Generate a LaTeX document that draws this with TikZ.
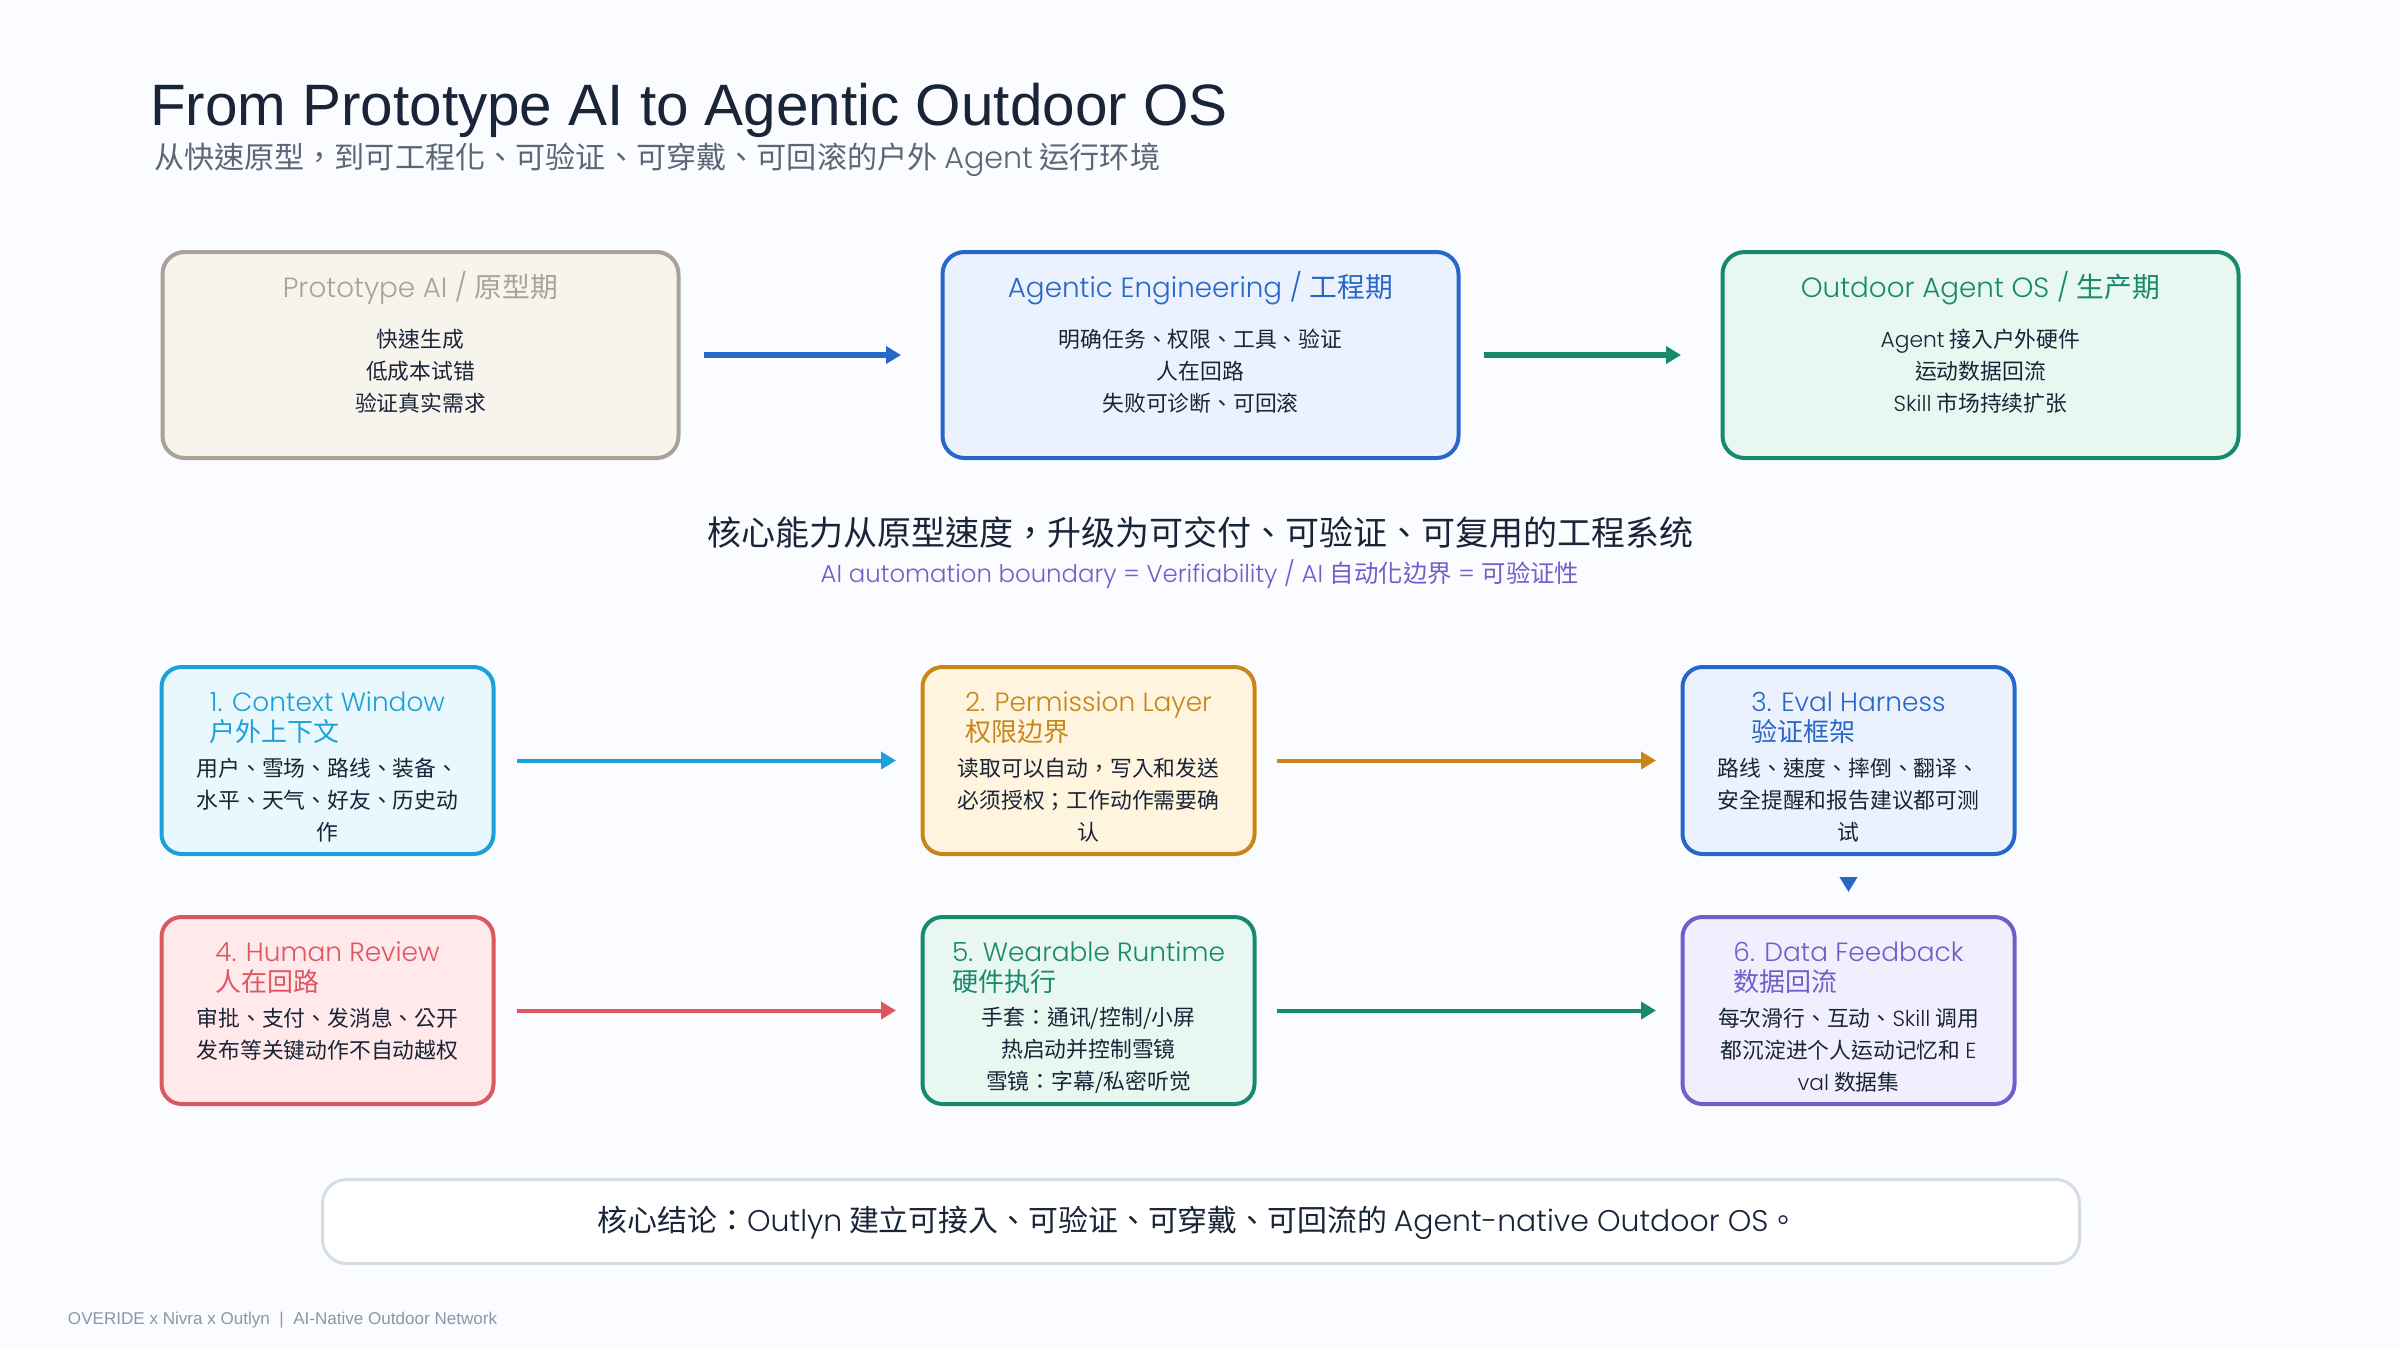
\documentclass[tikz,border=0pt]{standalone}
\usepackage{fontspec}
\setmainfont{Liberation Sans}
\newfontfamily\zhfont{Noto Sans CJK TC}
\newfontfamily\geofont{Poppins Light}
\usetikzlibrary{arrows.meta,positioning}
\newcommand{\zh}[1]{{\zhfont #1}}
\newcommand{\zhhead}[1]{{\zhfont\fontsize{13}{15}\selectfont #1}}
\definecolor{pagebg}{HTML}{FBFCFF}
\definecolor{ink}{HTML}{1A2438}
\definecolor{subink}{HTML}{5B6777}
\definecolor{protoline}{HTML}{A9A297}
\definecolor{protofill}{HTML}{F7F4EE}
\definecolor{blueline}{HTML}{2767C9}
\definecolor{bluefill}{HTML}{EBF2FE}
\definecolor{greenline}{HTML}{178A6E}
\definecolor{greenfill}{HTML}{E8F7F0}
\definecolor{cyanline}{HTML}{1D9FDA}
\definecolor{cyanfill}{HTML}{E8F8FC}
\definecolor{orangeline}{HTML}{C8851A}
\definecolor{orangefill}{HTML}{FFF4DE}
\definecolor{redline}{HTML}{DD5761}
\definecolor{redfill}{HTML}{FFE9EA}
\definecolor{violetline}{HTML}{6E5FC9}
\definecolor{violetfill}{HTML}{F1EFFE}
\definecolor{endline}{HTML}{D5DCE4}
\definecolor{footink}{HTML}{8A97A8}
\begin{document}
\begin{tikzpicture}[x=.5pt,y=-.5pt,outer sep=0pt,inner sep=0pt,
  stage/.style={rectangle,rounded corners=11pt,line width=2pt,minimum width=258pt,minimum height=103pt},
  card/.style={rectangle,rounded corners=10pt,line width=2pt,minimum width=166pt,minimum height=93.5pt},
  stagehead/.style={font=\geofont\fontsize{13.9}{16}\selectfont,text height=10pt,text depth=3pt},
  cardhead/.style={font=\geofont\fontsize{13.2}{15}\selectfont,align=left},
  body/.style={font=\zhfont\fontsize{10.9}{16}\selectfont,align=center,text=ink},
  flow/.style={-{Triangle[length=7.5pt,width=8.5pt]},line width=2pt},
  bigflow/.style={-{Triangle[length=7.5pt,width=8.5pt]},line width=3pt}]
  \fill[pagebg] (0,0) rectangle (2400,1350);
  \useasboundingbox (0,0) rectangle (2400,1350);

  \node[anchor=base west,text=ink,font=\fontsize{29.2}{33}\selectfont] (title) at (150,125) {From Prototype AI to Agentic Outdoor OS};
  \node[anchor=west,text=subink,font=\zhfont\fontsize{15.07}{18}\selectfont] (subtitle) at (154,160) {从快速原型，到可工程化、可验证、可穿戴、可回滚的户外 {\geofont Agent} 运行环境};

  % three stages
  \node[stage,draw=protoline,fill=protofill] (proto) at (420.5,355) {};
  \node[stage,draw=blueline,fill=bluefill,right=132pt of proto] (eng) {};
  \node[stage,draw=greenline,fill=greenfill,right=132pt of eng] (os) {};
  \node[stagehead,text=protoline,yshift=-19pt] (protohead) at (proto.north) {Prototype AI / \zh{原型期}};
  \node[stagehead,text=blueline,yshift=-19pt] (enghead) at (eng.north) {Agentic Engineering / \zh{工程期}};
  \node[stagehead,text=greenline,yshift=-19pt] (oshead) at (os.north) {Outdoor Agent OS / \zh{生产期}};
  \node[body,yshift=-8pt] (protobody) at (proto) {快速生成\\低成本试错\\验证真实需求};
  \node[body,yshift=-8pt] (engbody) at (eng) {明确任务、权限、工具、验证\\人在回路\\失败可诊断、可回滚};
  \node[body,yshift=-8pt] (osbody) at (os) {{\geofont Agent} 接入户外硬件\\运动数据回流\\{\geofont Skill} 市场持续扩张};

  \draw[bigflow,blueline,shorten <=12.75pt,shorten >=20.75pt] (proto) -- (eng);
  \draw[bigflow,greenline,shorten <=12.75pt,shorten >=20.75pt] (eng) -- (os);

  \node[text=ink,font=\zhfont\fontsize{17}{20}\selectfont] (core) at (1200,533) {核心能力从原型速度，升级为可交付、可验证、可复用的工程系统};
  \node[text=violetline,font=\geofont\fontsize{12.2}{15}\selectfont] (boundary) at (1200,574) {AI automation boundary = Verifiability / AI \zh{自动化边界} = \zh{可验证性}};

  % six layers
  \node[card,draw=cyanline,fill=cyanfill] (ctx) at (327.5,760.5) {};
  \node[card,draw=orangeline,fill=orangefill,right=214.5pt of ctx] (perm) {};
  \node[card,draw=blueline,fill=bluefill,right=214pt of perm] (eval) {};
  \node[card,draw=redline,fill=redfill,below=31.5pt of ctx] (human) {};
  \node[card,draw=greenline,fill=greenfill,below=31.5pt of perm] (wear) {};
  \node[card,draw=violetline,fill=violetfill,below=31.5pt of eval] (data) {};

  \node[cardhead,text=cyanline,yshift=-25.5pt] (ctxhead) at (ctx.north) {1. Context Window\\\zhhead{户外上下文}};
  \node[cardhead,text=orangeline,yshift=-25.5pt] (permhead) at (perm.north) {2. Permission Layer\\\zhhead{权限边界}};
  \node[cardhead,text=blueline,yshift=-25.5pt] (evalhead) at (eval.north) {3. Eval Harness\\\zhhead{验证框架}};
  \node[cardhead,text=redline,yshift=-25.5pt] (humanhead) at (human.north) {4. Human Review\\\zhhead{人在回路}};
  \node[cardhead,text=greenline,yshift=-25.5pt] (wearhead) at (wear.north) {5. Wearable Runtime\\\zhhead{硬件执行}};
  \node[cardhead,text=violetline,yshift=-25.5pt] (datahead) at (data.north) {6. Data Feedback\\\zhhead{数据回流}};

  \node[body,yshift=-20pt] (ctxbody) at (ctx) {用户、雪场、路线、装备、\\水平、天气、好友、历史动\\作};
  \node[body,yshift=-20pt] (permbody) at (perm) {读取可以自动，写入和发送\\必须授权；工作动作需要确\\认};
  \node[body,yshift=-20pt] (evalbody) at (eval) {路线、速度、摔倒、翻译、\\安全提醒和报告建议都可测\\试};
  \node[body,yshift=-12pt] (humanbody) at (human) {审批、支付、发消息、公开\\发布等关键动作不自动越权};
  \node[body,yshift=-20pt] (wearbody) at (wear) {手套：通讯/控制/小屏\\热启动并控制雪镜\\雪镜：字幕/私密听觉};
  \node[body,yshift=-20pt] (databody) at (data) {每次滑行、互动、{\geofont Skill} 调用\\都沉淀进个人运动记忆和 {\geofont E}\\{\geofont val} 数据集};

  \draw[flow,cyanline,shorten <=11.75pt,shorten >=13.25pt] (ctx) -- (perm);
  \draw[flow,orangeline,shorten <=11.25pt,shorten >=13.25pt] (perm) -- (eval);
  \draw[flow,blueline,shorten <=11.5pt,shorten >=12.5pt] (eval) -- (data);
  \draw[flow,redline,shorten <=11.75pt,shorten >=13.25pt] (human) -- (wear);
  \draw[flow,greenline,shorten <=11.25pt,shorten >=13.25pt] (wear) -- (data);

  \node[rectangle,rounded corners=12pt,line width=1.5pt,draw=endline,fill=white,minimum width=878.5pt,minimum height=42pt] (verdict) at (1201,1221.5) {};
  \node[font=\zhfont\fontsize{14.95}{18}\selectfont,text=ink] (verdicttext) at (1198,1223) {核心结论：{\geofont Outlyn} 建立可接入、可验证、可穿戴、可回流的 {\geofont Agent-native Outdoor OS}。};
  \node[anchor=west,text=footink,font=\fontsize{8.53}{10}\selectfont] (foot) at (68,1320) {OVERIDE x Nivra x Outlyn\ \ |\ \ AI-Native Outdoor Network};
\end{tikzpicture}
\end{document}
